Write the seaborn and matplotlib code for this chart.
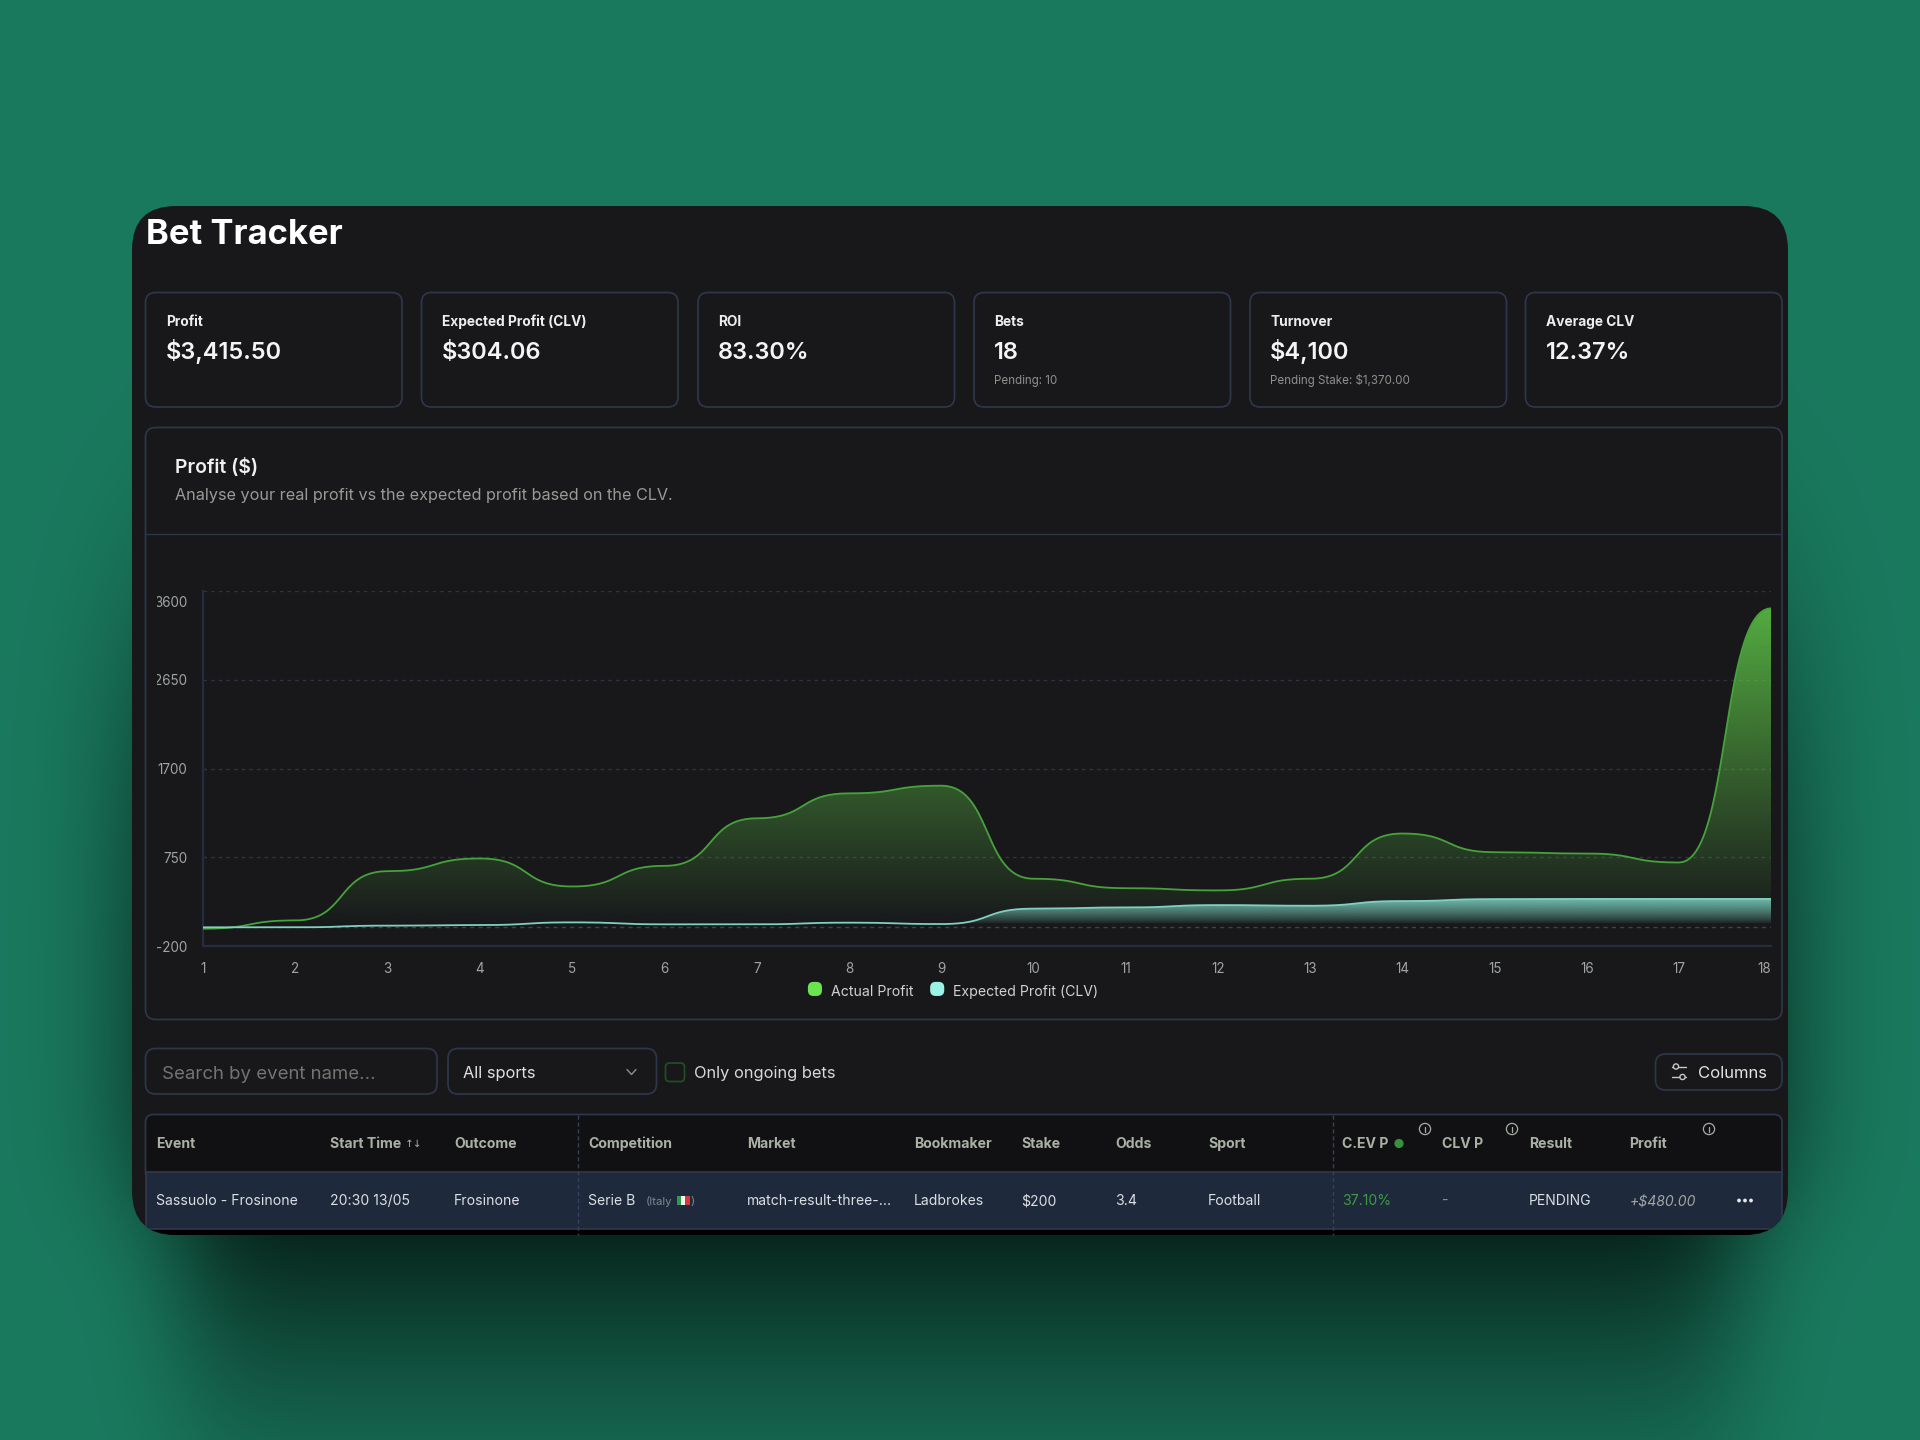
import math
import numpy as np
import pandas as pd
import seaborn as sns
import matplotlib.pyplot as plt
from matplotlib.patches import FancyBboxPatch, Rectangle, Circle
from matplotlib.legend_handler import HandlerPatch
from matplotlib.transforms import ScaledTranslation

# chart values
bet_no = list(range(1, 19))
actual_profit = [-15, 74, 601, 737, 437, 658, 1167, 1434, 1516, 520, 419, 395, 520, 1004, 804, 790, 694, 3415.5]
expected_profit = [0, 0, 18, 24, 53, 32, 32, 50, 35, 200, 213, 238, 231, 281, 302, 304, 304, 304.06]
y_ticks = [-200, 750, 1700, 2650, 3600]

# page text
card_labels = ['Profit', 'Expected Profit (CLV)', 'ROI', 'Bets', 'Turnover', 'Average CLV']
card_values = ['$3,415.50', '$304.06', '83.30%', '18', '$4,100', '12.37%']
card_notes = ['', '', '', 'Pending: 10', 'Pending Stake: $1,370.00', '']
card_left = [145.5, 421.5, 698, 974, 1250, 1525.5]
table_heads = ['Event', 'Start Time', 'Outcome', 'Competition', 'Market', 'Bookmaker', 'Stake', 'Odds', 'Sport',
               'C.EV P', 'CLV P', 'Result', 'Profit']
table_row = ['Sassuolo - Frosinone', '20:30 13/05', 'Frosinone', 'Serie B', 'match-result-three-...', 'Ladbrokes',
             '$200', '3.4', 'Football', '37.10%', '-', 'PENDING', '+$480.00']
col_x = [156.5, 330, 454, 588.2, 747.2, 914.2, 1021, 1115, 1208.2, 1342.4, 1442, 1529.2, 1629.5]

sns.set_theme(style='dark')
plt.rcParams['font.family'] = ['Inter', 'DejaVu Sans']
plt.rcParams['axes.unicode_minus'] = False

BG_CARD = '#18181b'
EDGE = '#2d364a'
GRID = '#2c3344'
GREEN = '#46a23b'
TEAL = '#7fd0c0'


def bump(xs, ys, c=0.56, n=40):
    # the line between two bets: flat at each bet, horizontal tangents
    t = np.linspace(0, 1, n)
    xout, yout = [], []
    for i in range(len(xs) - 1):
        bx = 3 * c * t * (1 - t) ** 2 + 3 * (1 - c) * t ** 2 * (1 - t) + t ** 3
        by = 3 * t ** 2 - 2 * t ** 3
        xout.extend(xs[i] + bx * (xs[i + 1] - xs[i]))
        yout.extend(ys[i] + by * (ys[i + 1] - ys[i]))
    return np.array(xout), np.array(yout)


def box(x0, y0, x1, y1, r=10, fc='none', ec=EDGE, lw=1.25, z=2, clip=None):
    p = FancyBboxPatch((x0, y0), x1 - x0, y1 - y0, boxstyle=f'round,pad=0,rounding_size={r}',
                       fc=fc, ec=ec, lw=lw, zorder=z)
    ui.add_patch(p)
    if clip is not None:
        p.set_clip_path(clip)
    return p


def label(x, y, s, px, color='#e8e8e8', weight='normal', **kw):
    # y is the middle of the capital letters
    return ui.text(x, y + 0.36 * px, s, fontsize=px * 0.72, color=color, fontweight=weight, va='baseline', zorder=6, **kw)


fig = plt.figure(figsize=(19.2, 14.4), dpi=100)
ui = fig.add_axes([0, 0, 1, 1])
ui.set_xlim(0, 1920)
ui.set_ylim(1440, 0)
ui.axis('off')

# page background with the soft shadows around the card
erf = np.vectorize(math.erf)
gx = np.arange(0, 1920, 4) + 2.0
gy = np.arange(0, 1440, 4) + 2.0


def phi(v):
    return 0.5 * (1 + erf(v / math.sqrt(2)))


low_shadow = 0.85 * np.outer(phi((gy - 800) / 200) * phi((1330 - gy) / 140),
                             phi((gx - 185) / 50) * phi((1735 - gx) / 50))
side_shadow = 0.5 * np.outer(phi((gy - 620) / 130) * phi((1200 - gy) / 60),
                             phi((gx - 130) / 60) * phi((1790 - gx) / 60))
shadow = 1 - (1 - low_shadow) * (1 - side_shadow)
page = np.zeros((len(gy), len(gx), 3))
for i, base in enumerate((26, 122, 94)):
    page[:, :, i] = base / 255 * (1 - shadow)
ui.imshow(page, extent=(0, 1920, 1440, 0), aspect='auto', zorder=0, interpolation='bilinear')
ui.set_xlim(0, 1920)
ui.set_ylim(1440, 0)

card = box(132, 206, 1788, 1235, r=44, fc=BG_CARD, ec='none', lw=0, z=1)

label(146, 231.5, 'Bet Tracker', 34.6, '#ffffff', 'bold')

# summary cards
for i in range(6):
    x0 = card_left[i]
    box(x0, 292.5, x0 + 256.5, 407)
    label(x0 + 20.2, 321.2, card_labels[i], 13.7, '#ededed', 'bold')
    label(x0 + 20.2, 351, card_values[i], 23.6, '#f4f4f4', 'semibold')
    if card_notes[i]:
        label(x0 + 20.2, 380, card_notes[i], 11.6, '#8d918b')

# chart card
box(145.5, 427.5, 1782, 1019.5)
ui.plot([145.5, 1782], [533.5, 533.5], color=EDGE, lw=1.0, zorder=2)
label(175, 466, 'Profit ($)', 19.3, '#f0f0f0', 'semibold')
label(175, 494.5, 'Analyse your real profit vs the expected profit based on the CLV.', 16.2, '#979c95')

# filter row
box(145.5, 1048.5, 437, 1094)
label(161.5, 1072, 'Search by event name...', 18.6, '#71756f')
box(448, 1048.5, 656.5, 1094)
label(463, 1072, 'All sports', 16.4, '#e0e0e0')
ui.plot([627, 631.5, 636], [1069.5, 1074.5, 1069.5], color='#8c908c', lw=1.0, zorder=6)
box(665.5, 1063, 684.5, 1081.5, r=4, ec='#1f4f24')
label(694, 1072, 'Only ongoing bets', 16.4, '#d8d8d8')
box(1655.5, 1054, 1782, 1090)
label(1698, 1072, 'Columns', 16.7, '#e4e4e4')
ui.plot([1672, 1686], [1066.5, 1066.5], color='#c8c8c8', lw=1.0, zorder=6)
ui.plot([1672, 1686], [1077, 1077], color='#c8c8c8', lw=1.0, zorder=6)
ui.add_patch(Circle((1676, 1066.5), 2.6, fc=BG_CARD, ec='#c8c8c8', lw=1.0, zorder=7))
ui.add_patch(Circle((1682.5, 1077), 2.6, fc=BG_CARD, ec='#c8c8c8', lw=1.0, zorder=7))

# table
black = Rectangle((145.5, 1229), 1636.5, 6.5, fc='#000000', ec='none', zorder=2)
ui.add_patch(black)
black.set_clip_path(card)
box(145.5, 1114.5, 1782, 1180, r=8, fc='#111113', ec=EDGE, z=2)
row_bg = Rectangle((145.5, 1171.5), 1636.5, 57.5, fc='#1e293b', ec='#2f394c', lw=1.2, zorder=3)
ui.add_patch(row_bg)
row_bg.set_clip_path(card)
for sep in (578.3, 1332.7):
    ui.plot([sep, sep], [1115, 1235], color='#36415a', lw=1.0, ls=(0, (3, 2)), zorder=4)

for i in range(13):
    label(col_x[i], 1142.7, table_heads[i], 14.1, '#a9b1a5', 'bold')
    if i == 9:
        color = '#3f9a45'
    elif i == 10:
        color = '#8b909a'
    elif i == 12:
        color = '#a2a6a4'
    else:
        color = '#dcdfe3'
    label(col_x[i], 1200, table_row[i], 14, color, style='italic' if i == 12 else 'normal')
label(405, 1142.7, '↑↓', 10.5, '#a9b1a5', family='DejaVu Sans')
ui.add_patch(Circle((1399, 1143.5), 4.6, fc='#37913f', ec='none', zorder=6))
for ix in (1425, 1512, 1709):
    ui.add_patch(Circle((ix, 1129), 5.6, fc='none', ec='#a7aca5', lw=0.9, zorder=6))
    ui.plot([ix, ix], [1126.5, 1131.5], color='#a7aca5', lw=0.9, zorder=6)
label(645.5, 1200.5, '(Italy', 11.5, '#7f8792')
for k, c in enumerate(('#2f9a4f', '#f2f2f2', '#d8343e')):
    ui.add_patch(Rectangle((677 + k * 4.2, 1196), 4.2, 9, fc=c, ec='none', zorder=6))
label(690.5, 1200.5, ')', 11.5, '#7f8792')
for dx in (-6, 0, 6):
    ui.add_patch(Circle((1745 + dx, 1200.5), 1.9, fc='#e8e8e8', ec='none', zorder=6))

# the chart itself
left, right, top, bottom = 203.3, 1771.4, 591, 946
ax = fig.add_axes([left / 1920, 1 - bottom / 1440, (right - left) / 1920, (bottom - top) / 1440])
ax.set_facecolor('none')

ax_x, ax_y = bump(bet_no, actual_profit)
ex_x, ex_y = bump(bet_no, expected_profit)
curves = pd.concat([
    pd.DataFrame({'bet': ax_x, 'profit': ax_y, 'series': 'Actual Profit'}),
    pd.DataFrame({'bet': ex_x, 'profit': ex_y, 'series': 'Expected Profit (CLV)'}),
])

ramp = np.linspace(1, 0, 256)
green_img = np.zeros((256, 1, 4))
green_img[:, 0, :3] = np.array([106, 227, 79]) / 255
green_img[:, 0, 3] = 0.73 * ramp
teal_img = np.zeros((256, 1, 4))
teal_img[:, 0, :3] = np.array([140, 240, 222]) / 255
teal_img[:, 0, 3] = 0.75 * ramp ** 0.8

for img, xs, ys, low, high in ((green_img, ax_x, ax_y, 0, max(actual_profit)),
                               (teal_img, ex_x, ex_y, 36, max(expected_profit))):
    poly = ax.fill_between(xs, ys, low, color='none', lw=0)
    im = ax.imshow(img, extent=(1, 18, low, high), aspect='auto', zorder=2, interpolation='bilinear')
    im.set_clip_path(poly.get_paths()[0], ax.transData)

sns.lineplot(data=curves, x='bet', y='profit', hue='series', palette=[GREEN, TEAL], estimator=None, sort=False,
             linewidth=1.3, legend=False, ax=ax, zorder=3)

ax.set_xlim(1, 18)
ax.set_ylim(-200, 3600)
ax.set_xlabel('')
ax.set_ylabel('')
ax.set_xticks(bet_no)
ax.set_xticklabels([str(b) for b in bet_no])
ax.set_yticks(y_ticks)
ax.set_yticklabels([str(v) for v in y_ticks])
ax.grid(False)
for v in y_ticks[1:]:
    ax.axhline(v, color=GRID, lw=1.0, ls=(0, (2.5, 3)), zorder=1)
ax.axhline(0, color='#3a4252', lw=1.0, ls=(0, (3, 3)), zorder=1)
for name in ('top', 'right'):
    ax.spines[name].set_visible(False)
for name in ('left', 'bottom'):
    ax.spines[name].set_color('#262c3b')
    ax.spines[name].set_linewidth(1.6)
ax.tick_params(axis='both', length=5.2, width=1.0, color='#2f3648', labelcolor='#a0a4a2', labelsize=9.7, pad=6.5)

# long labels get cut by the chart's left edge, the top one sits lower and the last x label sits inside
clip_rect = Rectangle((156.5, 0), 200, 1440, transform=ui.transData)
for t in ax.get_yticklabels():
    t.set_clip_on(True)
    t.set_clip_path(clip_rect)
ylabels = ax.get_yticklabels()
ylabels[-1].set_transform(ylabels[-1].get_transform() + ScaledTranslation(0, -10.5 / 100, fig.dpi_scale_trans))
xlabels = ax.get_xticklabels()
xlabels[-1].set_ha('right')


def legend_patch(legend, orig_handle, xdescent, ydescent, width, height, fontsize):
    return FancyBboxPatch((xdescent, ydescent - 1), width, width, boxstyle='round,pad=0,rounding_size=4', lw=0)


handles = [Rectangle((0, 0), 1, 1, fc='#6ae34f', ec='none', lw=0, label='Actual Profit'),
           Rectangle((0, 0), 1, 1, fc='#9bf3e5', ec='none', lw=0, label='Expected Profit (CLV)')]
leg = ax.legend(handles=handles, loc='center', bbox_to_anchor=((953 - left) / (right - left), 1 - (992 - top) / (bottom - top)),
                ncol=2, frameon=False, fontsize=10.15, labelcolor='#cfd2ce', handlelength=1.0, handleheight=1.0,
                handletextpad=0.62, columnspacing=1.2, borderpad=0, borderaxespad=0,
                handler_map={Rectangle: HandlerPatch(patch_func=legend_patch)})

fig.savefig('out.png', dpi=100)
